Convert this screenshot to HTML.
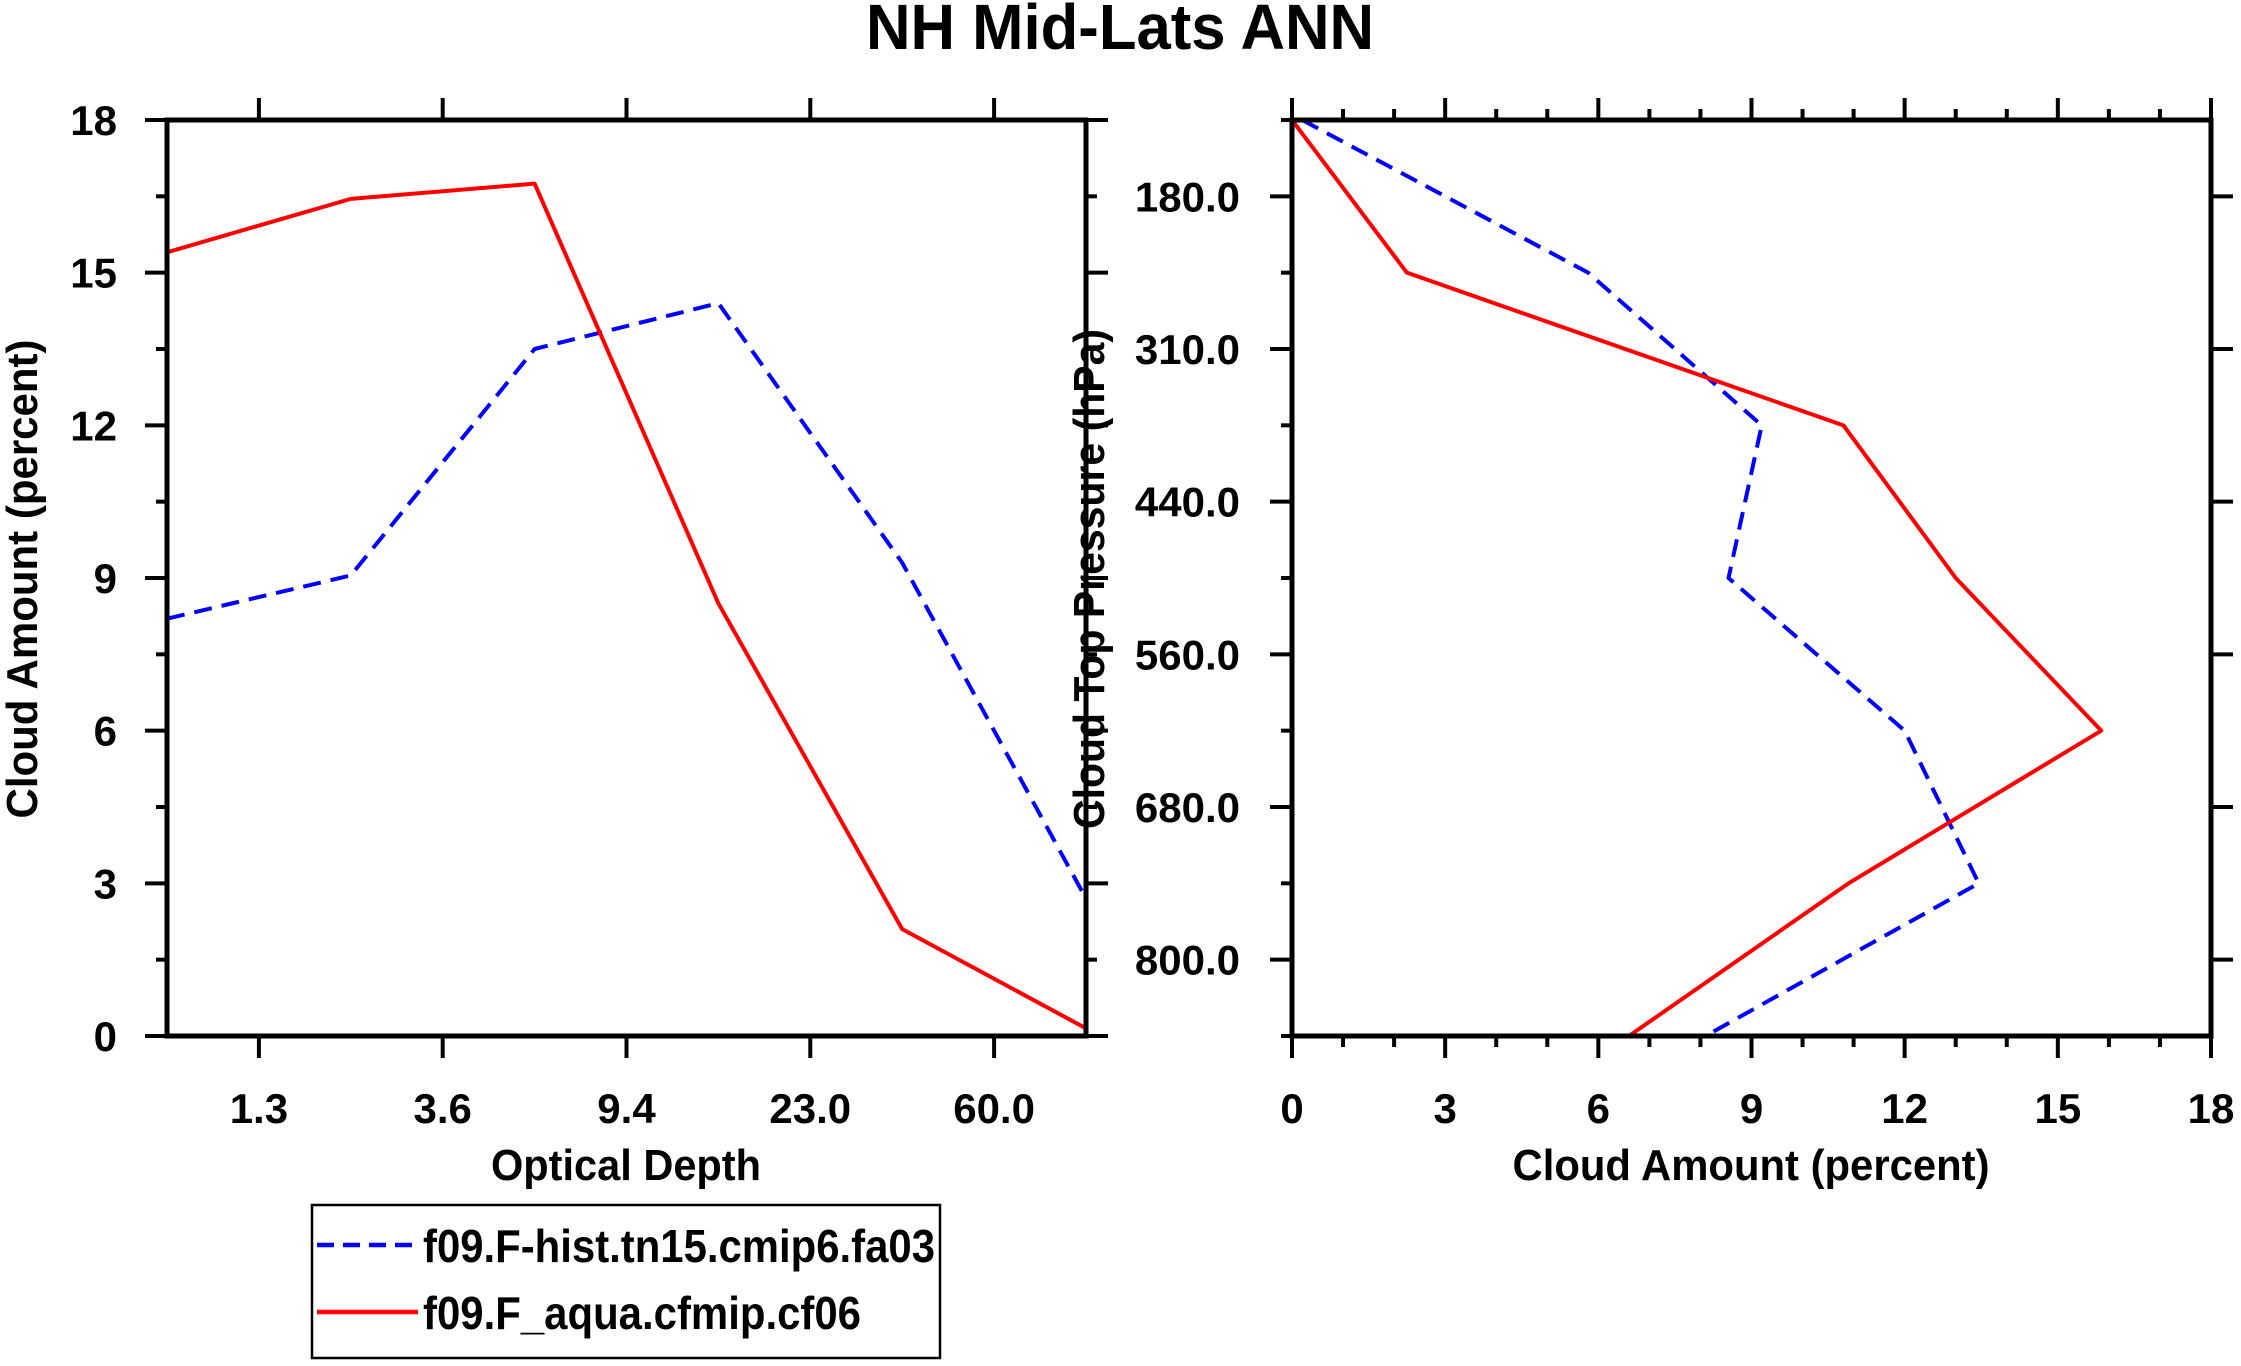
<!DOCTYPE html>
<html><head><meta charset="utf-8"><style>
html,body{margin:0;padding:0;background:#fff;}
svg{display:block;font-family:"Liberation Sans",Arial,sans-serif;font-weight:bold;}
</style></head><body>
<svg id="chart" width="2241" height="1366" viewBox="0 0 2241 1366">
<text x="1120" y="49" font-size="64" text-anchor="middle" textLength="508" lengthAdjust="spacingAndGlyphs">NH Mid-Lats ANN</text>
<g id="left"></g>
<g id="right"></g>
<g>
<rect x="312" y="1205" width="628" height="153" fill="none" stroke="#000" stroke-width="2.5"/>
<line x1="317" y1="1245" x2="418" y2="1245" stroke="#0000ff" stroke-width="4.5" stroke-dasharray="17,9"/>
<text x="423" y="1262" font-size="46" textLength="512" lengthAdjust="spacingAndGlyphs">f09.F-hist.tn15.cmip6.fa03</text>
<line x1="317" y1="1312" x2="418" y2="1312" stroke="#ff0000" stroke-width="4.5"/>
<text x="423" y="1329" font-size="46" textLength="438" lengthAdjust="spacingAndGlyphs">f09.F_aqua.cfmip.cf06</text>
</g>
</svg>
<script>
// Left panel data
const tauLabels = ["1.3","3.6","9.4","23.0","60.0"];
const tauRed = [15.4, 16.45, 16.75, 8.5, 2.1, 0.15];
const tauBlue = [8.2, 9.05, 13.5, 14.4, 9.3, 2.7];
const amountTicks = [0,3,6,9,12,15,18];
// Right panel data
const presLabels = ["180.0","310.0","440.0","560.0","680.0","800.0"];
const presRed = [0, 2.25, 10.8, 13, 15.85, 10.9, 6.6];
const presBlue = [0.2, 5.8, 9.2, 8.55, 12, 13.45, 8.1];

const NS = "http://www.w3.org/2000/svg";
function mk(parent, tag, attrs, text){
  const e = document.createElementNS(NS, tag);
  for (const k in attrs) e.setAttribute(k, attrs[k]);
  if (text !== undefined) e.textContent = text;
  parent.appendChild(e);
  return e;
}
function tick(g, x1,y1,x2,y2){
  const l = mk(g,'line',{x1:x1,y1:y1,x2:x2,y2:y2,stroke:'#000','stroke-width':4});
  
  
}
function txt(g, x, y, s, size, anchor, name){
  const t = mk(g,'text',{x:x,y:y,'font-size':size,'text-anchor':anchor},s);
  
  
  return t;
}
function series(g, pts, color, dashed, name){
  const attrs = {points: pts.map(p=>p.join(',')).join(' '), fill:'none', stroke:color, 'stroke-width':4, 'stroke-linejoin':'round'};
  if (dashed) attrs['stroke-dasharray'] = '18,10';
  const p = mk(g,'polyline',attrs);
  
  
}

// ---- Left panel ----
(function(){
  const g = document.getElementById('left');
  const L=167, R=1086, T=120, B=1036;
  const n = tauRed.length - 1;
  const xs = i => L + (R-L)*i/n;
  const ys = v => B - (B-T)*v/18;
  for (let v=0; v<=18; v+=1.5){
    const major = (v%3===0);
    const len = major?22:11;
    tick(g, L-len, ys(v), L, ys(v));
    tick(g, R, ys(v), R+len, ys(v));
  }
  amountTicks.forEach(v => txt(g, L-50, ys(v)+15, String(v), 42, 'end', 'y-tick-label'));
  tauLabels.forEach((s,i) => {
    const x = xs(i+0.5);
    tick(g, x, T-22, x, T);
    tick(g, x, B, x, B+22);
    txt(g, x, 1123, s, 42, 'middle', 'x-tick-label');
  });
  series(g, tauBlue.map((v,i)=>[xs(i),ys(v)]), '#0000ff', true, 'series-fa03-optical');
  series(g, tauRed.map((v,i)=>[xs(i),ys(v)]), '#ff0000', false, 'series-cf06-optical');
  const fr = mk(g,'rect',{x:L,y:T,width:R-L,height:B-T,fill:'none',stroke:'#000','stroke-width':5});
  
  
  const xt = txt(g, 626, 1180, 'Optical Depth', 44, 'middle', 'x-axis-title');
  xt.setAttribute('textLength','270');
  xt.setAttribute('lengthAdjust','spacingAndGlyphs');
  const yt = txt(g, 0, 0, 'Cloud Amount (percent)', 44, 'middle', 'y-axis-title');
  yt.setAttribute('transform','translate(37,579) rotate(-90)');
  yt.setAttribute('textLength','479');
  yt.setAttribute('lengthAdjust','spacingAndGlyphs');
})();

// ---- Right panel ----
(function(){
  const g = document.getElementById('right');
  const L=1292, R=2211, T=120, B=1036;
  const n = presRed.length - 1;
  const xs = v => L + (R-L)*v/18;
  const ys = i => T + (B-T)*i/n;
  for (let v=0; v<=18; v+=1){
    const major = (v%3===0);
    const len = major?22:11;
    tick(g, xs(v), T-len, xs(v), T);
    tick(g, xs(v), B, xs(v), B+len);
  }
  amountTicks.forEach(v => txt(g, xs(v), 1123, String(v), 42, 'middle', 'x-tick-label'));
  for (let i=0;i<=n;i++){ tick(g, L-11, ys(i), L, ys(i)); }
  presLabels.forEach((s,i) => {
    const y = ys(i+0.5);
    tick(g, L-22, y, L, y);
    tick(g, R, y, R+22, y);
    txt(g, L-52, y+15, s, 42, 'end', 'y-tick-label');
  });
  series(g, presBlue.map((v,i)=>[xs(v),ys(i)]), '#0000ff', true, 'series-fa03-pressure');
  series(g, presRed.map((v,i)=>[xs(v),ys(i)]), '#ff0000', false, 'series-cf06-pressure');
  const fr = mk(g,'rect',{x:L,y:T,width:R-L,height:B-T,fill:'none',stroke:'#000','stroke-width':5});
  
  
  const xt = txt(g, 1751, 1180, 'Cloud Amount (percent)', 44, 'middle', 'x-axis-title');
  xt.setAttribute('textLength','477');
  xt.setAttribute('lengthAdjust','spacingAndGlyphs');
  const yt = txt(g, 0, 0, 'Cloud Top Pressure (hPa)', 44, 'middle', 'y-axis-title');
  yt.setAttribute('transform','translate(1104,579) rotate(-90)');
  yt.setAttribute('textLength','500');
  yt.setAttribute('lengthAdjust','spacingAndGlyphs');
})();
</script>
</body></html>
